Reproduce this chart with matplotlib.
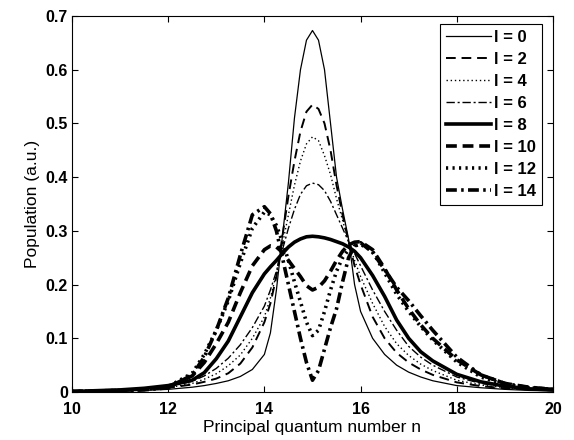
import matplotlib
matplotlib.use("Agg")
import matplotlib.pyplot as plt

plt.rcParams['font.family'] = ['Liberation Sans', 'DejaVu Sans']

# principal quantum number grid
n = [10, 11, 11.5, 12, 12.5, 12.75, 13, 13.25, 13.5, 13.75, 14, 14.125, 14.25, 14.375,
     14.5, 14.625, 14.75, 14.875, 15, 15.125, 15.25, 15.375, 15.5, 15.625, 15.75, 15.875,
     16, 16.25, 16.5, 16.75, 17, 17.25, 17.5, 18, 18.5, 19, 19.5, 20]

pop_l0 = [0.001, 0.002, 0.003, 0.005, 0.009, 0.012, 0.016, 0.021, 0.029, 0.042, 0.07, 0.11,
          0.19, 0.29, 0.39, 0.51, 0.6, 0.655, 0.673, 0.655, 0.6, 0.5, 0.4, 0.34, 0.285, 0.2,
          0.15, 0.1, 0.07, 0.05, 0.037, 0.028, 0.021, 0.012, 0.008, 0.005, 0.003, 0.002]
pop_l2 = [0.001, 0.003, 0.005, 0.008, 0.014, 0.019, 0.025, 0.035, 0.053, 0.083, 0.13, 0.165,
          0.215, 0.29, 0.365, 0.43, 0.485, 0.522, 0.535, 0.527, 0.5, 0.45, 0.385, 0.33, 0.28,
          0.235, 0.2, 0.14, 0.1, 0.073, 0.055, 0.042, 0.032, 0.018, 0.011, 0.007, 0.005, 0.003]
pop_l4 = [0.001, 0.003, 0.005, 0.008, 0.016, 0.024, 0.034, 0.049, 0.069, 0.1, 0.14, 0.175,
          0.22, 0.275, 0.33, 0.385, 0.43, 0.462, 0.475, 0.468, 0.44, 0.405, 0.36, 0.32, 0.28,
          0.245, 0.215, 0.165, 0.122, 0.09, 0.068, 0.052, 0.04, 0.022, 0.013, 0.008, 0.005, 0.003]
pop_l6 = [0.001, 0.003, 0.005, 0.009, 0.02, 0.03, 0.044, 0.063, 0.088, 0.12, 0.16, 0.19,
          0.225, 0.265, 0.305, 0.34, 0.368, 0.384, 0.389, 0.386, 0.375, 0.355, 0.33, 0.305,
          0.28, 0.258, 0.235, 0.19, 0.15, 0.115, 0.085, 0.065, 0.05, 0.028, 0.016, 0.01, 0.006,
          0.004]
pop_l8 = [0.001, 0.004, 0.007, 0.012, 0.022, 0.036, 0.062, 0.095, 0.14, 0.185, 0.22, 0.233,
          0.245, 0.258, 0.27, 0.279, 0.285, 0.289, 0.29, 0.289, 0.287, 0.284, 0.28, 0.276,
          0.27, 0.262, 0.25, 0.217, 0.178, 0.134, 0.1, 0.075, 0.058, 0.033, 0.019, 0.011, 0.006,
          0.004]
pop_l10 = [0.001, 0.003, 0.005, 0.01, 0.03, 0.055, 0.09, 0.13, 0.185, 0.235, 0.265, 0.272,
           0.27, 0.26, 0.245, 0.23, 0.215, 0.198, 0.19, 0.195, 0.207, 0.225, 0.245, 0.262,
           0.274, 0.279, 0.28, 0.265, 0.23, 0.19, 0.155, 0.125, 0.1, 0.06, 0.032, 0.016, 0.009,
           0.005]
pop_l12 = [0.001, 0.003, 0.005, 0.01, 0.035, 0.07, 0.115, 0.17, 0.24, 0.305, 0.335, 0.33,
           0.31, 0.28, 0.245, 0.205, 0.168, 0.13, 0.105, 0.115, 0.15, 0.19, 0.225, 0.25,
           0.265, 0.272, 0.275, 0.262, 0.222, 0.182, 0.15, 0.122, 0.097, 0.056, 0.028, 0.014,
           0.008, 0.005]
pop_l14 = [0.001, 0.002, 0.004, 0.008, 0.032, 0.065, 0.115, 0.175, 0.255, 0.33, 0.345, 0.332,
           0.3, 0.25, 0.2, 0.15, 0.1, 0.055, 0.022, 0.04, 0.08, 0.12, 0.155, 0.205, 0.25,
           0.272, 0.278, 0.26, 0.228, 0.195, 0.17, 0.142, 0.115, 0.065, 0.032, 0.016, 0.008,
           0.005]

labels = ['l = 0', 'l = 2', 'l = 4', 'l = 6', 'l = 8', 'l = 10', 'l = 12', 'l = 14']
series = [pop_l0, pop_l2, pop_l4, pop_l6, pop_l8, pop_l10, pop_l12, pop_l14]
styles = [('-', 0.9), ((0, (5, 3)), 1.4), ((0, (1, 2)), 1.0), ((0, (6, 2, 1.5, 2)), 1.0),
          ('-', 2.6), ((0, (3, 1.6)), 2.6), ((0, (0.6, 1.2)), 2.6), ((0, (3, 1.2, 0.7, 1.2)), 2.6)]

fig = plt.figure(figsize=(5.74, 4.4), dpi=100)
ax = fig.add_axes([0.1254, 0.109, 0.838, 0.8546])

for vals, lab, (ls, lw) in zip(series, labels, styles):
    ax.plot(n, vals, color='black', linestyle=ls, linewidth=lw, label=lab)

ax.set_xlim(10, 20)
ax.set_ylim(0, 0.7)
ax.set_xticks([10, 12, 14, 16, 18, 20])
ax.set_yticks([0, 0.1, 0.2, 0.3, 0.4, 0.5, 0.6, 0.7])
ax.set_yticklabels(['0', '0.1', '0.2', '0.3', '0.4', '0.5', '0.6', '0.7'])
ax.tick_params(direction='in', top=True, right=True, length=4, labelsize=11.5)
ax.tick_params(axis='x', pad=7)
ax.tick_params(axis='y', pad=3)
for t in ax.get_xticklabels() + ax.get_yticklabels():
    t.set_fontweight('bold')

ax.set_xlabel('Principal quantum number n', fontsize=12.5, labelpad=2)
ax.set_ylabel('Population (a.u.)', fontsize=12.5, labelpad=4)

leg = ax.legend(loc='upper right', fontsize=12, handlelength=2.7, handletextpad=0.2,
                labelspacing=0.42, borderpad=0.35, fancybox=False, framealpha=1,
                edgecolor='black', bbox_to_anchor=(0.977, 0.979), borderaxespad=0)
for t in leg.get_texts():
    t.set_fontweight('bold')
leg.get_frame().set_linewidth(0.8)

fig.savefig('out.png', dpi=100)
